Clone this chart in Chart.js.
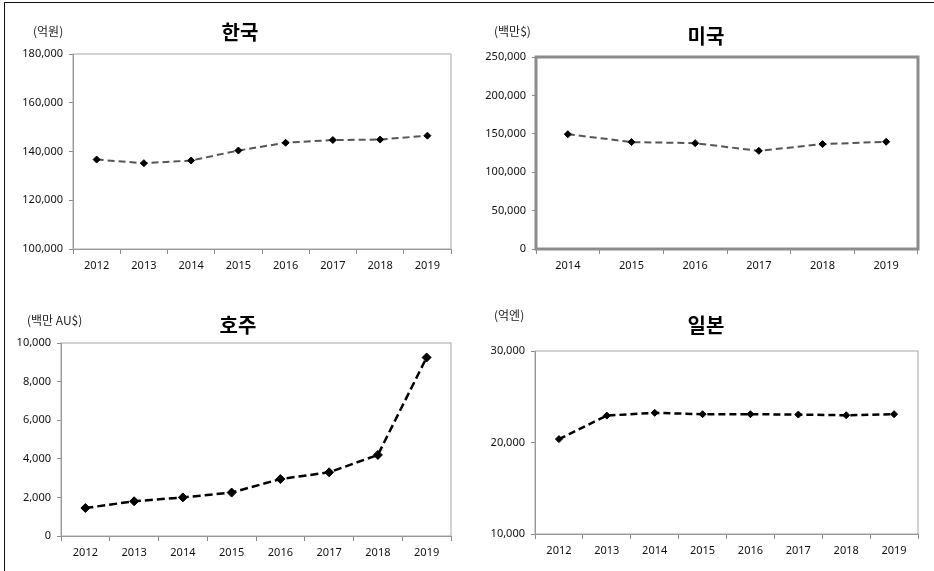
<!DOCTYPE html>
<html>
<head>
<meta charset="utf-8">
<script src="https://cdn.jsdelivr.net/npm/chart.js@4/dist/chart.umd.min.js"></script>
<style>
  html, body { margin: 0; padding: 0; background: #fff; }
  body { width: 934px; height: 571px; position: relative; overflow: hidden; }
  .frame { position: absolute; left: 4px; top: 2px; width: 940px; height: 580px;
           border-top: 1.5px solid #111; border-left: 1.5px solid #111; }
  .box { position: absolute; }
  .title { position: absolute; font-family: "Noto Sans CJK KR", sans-serif; font-weight: bold;
           font-size: 20px; line-height: 20px; color: #000; transform: translateX(-50%); white-space: nowrap; }
  .unit { position: absolute; font-family: "Noto Sans CJK KR", sans-serif; font-size: 12px;
          line-height: 12px; color: #222; white-space: nowrap; }
</style>
</head>
<body>
<div class="frame"></div>

<div class="box" style="left:0;top:0;width:467px;height:285px"><canvas id="korea"></canvas></div>
<div class="box" style="left:467px;top:0;width:467px;height:285px"><canvas id="usa"></canvas></div>
<div class="box" style="left:0;top:290px;width:467px;height:281px"><canvas id="australia"></canvas></div>
<div class="box" style="left:467px;top:290px;width:467px;height:281px"><canvas id="japan"></canvas></div>

<div class="title" style="left:240px;top:22px">한국</div>
<div class="title" style="left:706px;top:26px">미국</div>
<div class="title" style="left:238px;top:315px">호주</div>
<div class="title" style="left:706px;top:315px">일본</div>

<div class="unit" style="left:33px;top:25px">(억원)</div>
<div class="unit" style="left:494px;top:25px">(백만$)</div>
<div class="unit" style="left:27px;top:314px">(백만 AU$)</div>
<div class="unit" style="left:494px;top:309px">(억엔)</div>

<script>
// 한국 (억원)
const koreaYears = ['2012', '2013', '2014', '2015', '2016', '2017', '2018', '2019'];
const koreaValues = [136700, 135200, 136300, 140400, 143600, 144700, 144900, 146500];

// 미국 (백만$)
const usaYears = ['2014', '2015', '2016', '2017', '2018', '2019'];
const usaValues = [149500, 139200, 137800, 127800, 136600, 139600];

// 호주 (백만 AU$)
const australiaYears = ['2012', '2013', '2014', '2015', '2016', '2017', '2018', '2019'];
const australiaValues = [1450, 1800, 2000, 2250, 2950, 3300, 4200, 9250];

// 일본 (억엔)
const japanYears = ['2012', '2013', '2014', '2015', '2016', '2017', '2018', '2019'];
const japanValues = [20370, 22940, 23240, 23090, 23090, 23050, 22980, 23090];

const tickFont = { family: '"Noto Sans", sans-serif', size: 11 };
const axisGray = '#8a8a8a';

// border round the plot area
const plotBorder = {
    id: 'plotBorder',
    afterDraw(chart, args, opts) {
        const a = chart.chartArea;
        const ctx = chart.ctx;
        ctx.save();
        ctx.strokeStyle = opts.color;
        ctx.lineWidth = opts.width;
        ctx.strokeRect(a.left, a.top, a.right - a.left, a.bottom - a.top);
        ctx.restore();
    }
};

function makeChart(id, labels, values, o) {
    const canvas = document.getElementById(id);
    const box = canvas.parentNode;
    const w = box.clientWidth, h = box.clientHeight;
    canvas.width = w;
    canvas.height = h;
    return new Chart(canvas, {
        type: 'line',
        data: {
            labels: labels,
            datasets: [{
                data: values,
                borderColor: o.lineColor,
                borderWidth: o.lineWidth,
                borderDash: o.dash,
                pointStyle: 'rectRot',
                pointRadius: o.pointRadius,
                pointBackgroundColor: '#000',
                pointBorderColor: '#000',
                pointBorderWidth: 1,
                tension: 0,
                fill: false,
            }]
        },
        options: {
            responsive: false,
            animation: false,
            layout: { padding: { left: 0, top: o.top, right: w - o.right, bottom: 0 } },
            plugins: {
                legend: { display: false },
                tooltip: { enabled: false },
                plotBorder: { color: o.borderColor, width: o.borderWidth },
            },
            scales: {
                x: {
                    offset: true,
                    grid: { offset: true, drawOnChartArea: false, drawTicks: true, tickLength: 5, color: axisGray },
                    border: { display: true, color: axisGray },
                    ticks: { font: tickFont, color: '#111', padding: 5, maxRotation: 0 },
                    afterFit: (s) => { s.height = h - o.bottom; },
                },
                y: {
                    min: o.min,
                    max: o.max,
                    grid: { drawOnChartArea: false, drawTicks: true, tickLength: 4, color: axisGray },
                    border: { display: true, color: axisGray },
                    ticks: {
                        stepSize: o.step,
                        font: tickFont,
                        color: '#111',
                        padding: 6,
                        callback: (v) => v.toLocaleString('en-US'),
                    },
                    afterFit: (s) => { s.width = o.left; },
                },
            },
        },
        plugins: [plotBorder],
    });
}

makeChart('korea', koreaYears, koreaValues, {
    left: 73, right: 451, top: 54, bottom: 249,
    min: 100000, max: 180000, step: 20000,
    lineColor: '#555', lineWidth: 2, dash: [7, 4], pointRadius: 3.5,
    borderColor: '#a6a6a6', borderWidth: 1,
});

makeChart('usa', usaYears, usaValues, {
    left: 69, right: 451, top: 57, bottom: 249,
    min: 0, max: 250000, step: 50000,
    lineColor: '#555', lineWidth: 2, dash: [7, 4], pointRadius: 3.5,
    borderColor: '#8c8c8c', borderWidth: 3,
});

makeChart('australia', australiaYears, australiaValues, {
    left: 61, right: 451, top: 53, bottom: 246,
    min: 0, max: 10000, step: 2000,
    lineColor: '#000', lineWidth: 2.5, dash: [8, 4], pointRadius: 4.5,
    borderColor: '#a6a6a6', borderWidth: 1,
});

makeChart('japan', japanYears, japanValues, {
    left: 68, right: 451, top: 61, bottom: 244,
    min: 10000, max: 30000, step: 10000,
    lineColor: '#000', lineWidth: 2.5, dash: [7, 4], pointRadius: 3.5,
    borderColor: '#a6a6a6', borderWidth: 1,
});
</script>
</body>
</html>
